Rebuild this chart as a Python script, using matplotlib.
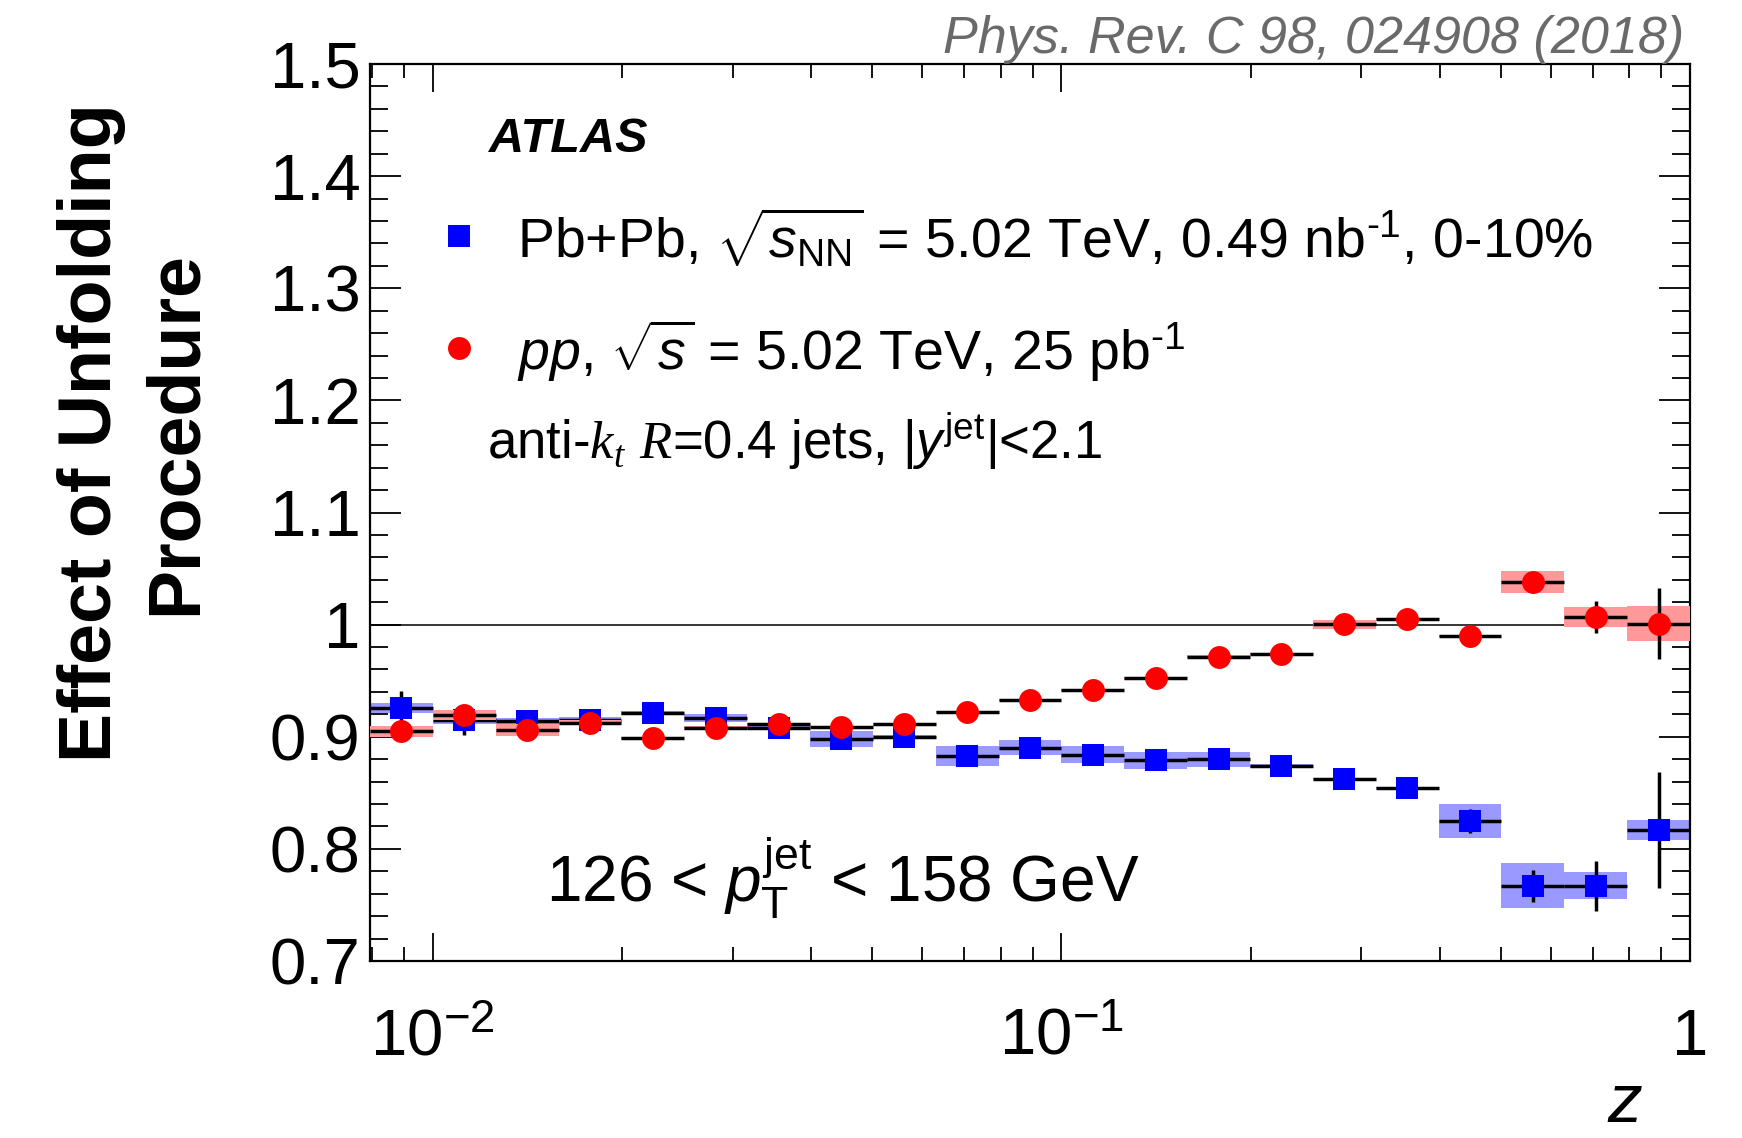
import numpy as np
import matplotlib
matplotlib.use("Agg")
import matplotlib.pyplot as plt
from matplotlib.patches import Rectangle
from matplotlib.ticker import LogLocator, MultipleLocator, NullFormatter

plt.rcParams['font.family'] = ['Liberation Sans', 'DejaVu Sans']
plt.rcParams['mathtext.fontset'] = 'custom'
plt.rcParams['mathtext.rm'] = 'Liberation Sans'
plt.rcParams['mathtext.it'] = 'Liberation Sans:italic'
plt.rcParams['mathtext.bf'] = 'Liberation Sans:bold'
plt.rcParams['mathtext.cal'] = 'Liberation Serif:italic'

# z bin edges (log spaced, 21 bins)
z_edges = [0.00794, 0.01, 0.01259, 0.01585, 0.01995, 0.02512, 0.03162, 0.03981,
           0.05012, 0.0631, 0.07943, 0.1, 0.1259, 0.1585, 0.1995, 0.2512,
           0.3162, 0.3981, 0.5012, 0.631, 0.7943, 1.0]

# Pb+Pb 0-10%
pbpb_val = [0.926, 0.9145, 0.914, 0.9145, 0.921, 0.9165, 0.908, 0.898, 0.900, 0.883, 0.890,
            0.884, 0.879, 0.880, 0.874, 0.862, 0.854, 0.825, 0.767, 0.767, 0.817]
pbpb_stat = [0.015, 0.013, 0.002, 0.002, 0.002, 0.002, 0.002, 0.002, 0.002, 0.002, 0.002,
             0.002, 0.002, 0.002, 0.002, 0.002, 0.002, 0.011, 0.014, 0.022, 0.052]
pbpb_syst = [0.0045, 0.003, 0.003, 0.003, 0.002, 0.0035, 0.002, 0.007, 0.002, 0.009, 0.0067,
             0.0074, 0.0074, 0.0067, 0.002, 0.001, 0.001, 0.015, 0.020, 0.012, 0.009]

# pp
pp_val = [0.905, 0.919, 0.906, 0.9125, 0.8985, 0.908, 0.9115, 0.9085, 0.911, 0.922, 0.933,
          0.942, 0.952, 0.9715, 0.9735, 1.0005, 1.005, 0.990, 1.038, 1.007, 1.001]
pp_stat = [0.002, 0.002, 0.002, 0.002, 0.002, 0.002, 0.002, 0.002, 0.002, 0.002, 0.002,
           0.002, 0.002, 0.002, 0.002, 0.002, 0.002, 0.002, 0.003, 0.0145, 0.032]
pp_syst = [0.005, 0.0045, 0.0055, 0.002, 0.001, 0.002, 0.001, 0.001, 0.001, 0.001, 0.001,
           0.001, 0.001, 0.001, 0.001, 0.004, 0.001, 0.001, 0.010, 0.009, 0.016]

y_ticks = [0.7, 0.8, 0.9, 1.0, 1.1, 1.2, 1.3, 1.4, 1.5]
y_labels = ['0.7', '0.8', '0.9', '1', '1.1', '1.2', '1.3', '1.4', '1.5']
x_ticks = [0.01, 0.1, 1.0]
x_labels = [r'$10^{-2}$', r'$10^{-1}$', '1']

W, H = 1742, 1138


def fx(x):
    return x / W


def fy(y):
    return 1 - y / H


def draw_series(ax, val, stat, syst, color, box_color, marker, z):
    lo = np.array(z_edges[:-1])
    hi = np.array(z_edges[1:])
    val = np.array(val)
    stat = np.array(stat)
    zc = np.sqrt(lo * hi)
    for l, h, v, s in zip(lo, hi, val, syst):
        ax.add_patch(Rectangle((l, v - s), h - l, 2 * s, facecolor=box_color,
                               edgecolor='none', zorder=z))
    ax.hlines(val, lo, hi, colors='black', lw=2.5, zorder=z + 1)
    ax.vlines(zc, val - stat, val + stat, colors='black', lw=2.5, zorder=z + 1)
    ax.plot(zc, val, ls='none', marker=marker, ms=16.5, color=color, mew=0, zorder=z + 2)


def main():
    fig = plt.figure(figsize=(W / 100, H / 100), dpi=100)
    ax = fig.add_axes([fx(370), fy(961), fx(1690) - fx(370), (961 - 64) / H])

    ax.axhline(1.0, color='black', lw=1.1, zorder=1.5)
    draw_series(ax, pbpb_val, pbpb_stat, pbpb_syst, '#0000ff', '#9999ff', 's', 2)
    draw_series(ax, pp_val, pp_stat, pp_syst, '#ff0000', '#ff9999', 'o', 5)

    ax.set_xscale('log')
    ax.set_xlim(10 ** -2.1, 1.0)
    ax.set_ylim(0.7, 1.5)
    ax.set_xticks(x_ticks, labels=x_labels)
    ax.xaxis.set_minor_locator(LogLocator(base=10, subs=np.arange(2, 10)))
    ax.xaxis.set_minor_formatter(NullFormatter())
    ax.set_yticks(y_ticks, labels=y_labels)
    ax.yaxis.set_minor_locator(MultipleLocator(0.02))

    ax.tick_params(which='both', direction='in', top=True, right=True, width=1.3)
    ax.tick_params(axis='x', which='major', length=20, pad=68, labelsize=47)
    ax.tick_params(axis='x', which='minor', length=10)
    ax.tick_params(axis='y', which='major', length=22, pad=7, labelsize=47)
    ax.tick_params(axis='y', which='minor', length=13)
    plt.setp(ax.get_xticklabels(), va='baseline')
    for sp in ax.spines.values():
        sp.set_linewidth(1.6)

    # axis titles
    fig.text(fx(1642), fy(1122), 'z', fontsize=50, style='italic', ha='right', va='baseline')
    fig.text(fx(111), fy(433), 'Effect of Unfolding', fontsize=53, fontweight='bold',
             rotation=90, rotation_mode='anchor', ha='center', va='baseline')
    fig.text(fx(196), fy(433), 'Procedure', fontsize=53, fontweight='bold',
             rotation=90, rotation_mode='anchor', ha='center', va='baseline')

    # annotations
    fig.text(fx(1684), fy(53), 'Phys. Rev. C 98, 024908 (2018)', fontsize=37.5,
             style='italic', color='#6a6a6a', ha='right', va='baseline')
    fig.text(fx(489), fy(152), 'ATLAS', fontsize=35, fontweight='bold', style='italic',
             va='baseline')

    leg = fig.add_axes([0, 0, 1, 1], facecolor='none')
    leg.set_axis_off()
    leg.set_xlim(0, W)
    leg.set_ylim(H, 0)
    leg.plot([459], [236], ls='none', marker='s', ms=16.5, color='#0000ff', mew=0)
    leg.plot([459], [348], ls='none', marker='o', ms=16.5, color='#ff0000', mew=0)
    fig.text(fx(517), fy(258),
             r'Pb+Pb, $\sqrt{s_{\mathrm{NN}}}$ = 5.02 TeV, 0.49 nb$^{\text{-1}}$, 0-10%',
             fontsize=40, va='baseline')
    fig.text(fx(517), fy(370), r'$pp$, $\sqrt{s}$ = 5.02 TeV, 25 pb$^{\text{-1}}$',
             fontsize=40, va='baseline')
    fig.text(fx(487), fy(459),
             r'anti-$\mathcal{k}_{\mathcal{t}}$ $\mathcal{R}$=0.4 jets, |$y^{\mathrm{jet}}$|<2.1',
             fontsize=38, va='baseline')
    fig.text(fx(546), fy(902), r'126 < $p_{\mathrm{T}}^{\mathrm{jet}}$ < 158 GeV',
             fontsize=46, va='baseline')

    fig.savefig('out.png', dpi=100)


if __name__ == "__main__":
    main()
